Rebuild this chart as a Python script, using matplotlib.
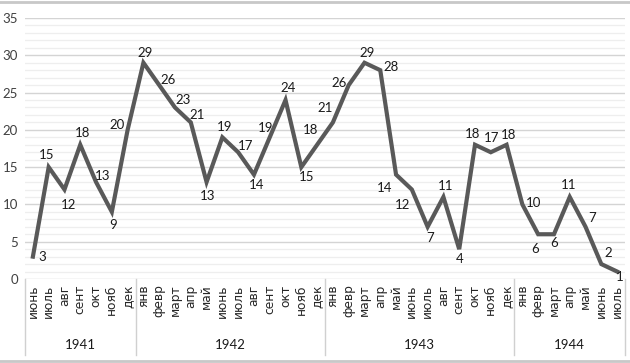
import numpy as np
import matplotlib.pyplot as plt
import matplotlib.transforms as mtransforms
from matplotlib.ticker import MultipleLocator

years = ["1941", "1942", "1943", "1944"]
months_1941 = ["июнь", "июль", "авг", "сент", "окт", "нояб", "дек"]
months_full = ["янв", "февр", "март", "апр", "май", "июнь", "июль",
               "авг", "сент", "окт", "нояб", "дек"]
months_1944 = ["янв", "февр", "март", "апр", "май", "июнь", "июль"]
months = months_1941 + months_full + months_full + months_1944
group_sizes = [len(months_1941), len(months_full), len(months_full), len(months_1944)]

values_1941 = [3, 15, 12, 18, 13, 9, 20]
values_1942 = [29, 26, 23, 21, 13, 19, 17, 14, 19, 24, 15, 18]
values_1943 = [21, 26, 29, 28, 14, 12, 7, 11, 4, 18, 17, 18]
values_1944 = [10, 6, 6, 11, 7, 2, 1]
values = values_1941 + values_1942 + values_1943 + values_1944

# label offsets in pixels (dx, dy up)
label_offsets = [
    (9, 0), (-2, 12), (4, -15), (2, 12), (7, 6), (1, -13), (-11, 5),
    (2, 10), (9, 5), (8, 7), (6, 7), (1, -14), (2, 10), (7, 6), (3, -10),
    (-4, 9), (3, 12), (5, -10), (-7, 15), (-8, 14),
    (-10, 2), (3, 10), (11, 3), (-11, -13), (-9, -15), (2, -11), (2, 11),
    (0, -10), (-2, 11), (1, 14), (2, 10), (11, 1),
    (-3, -15), (0, -9), (-1, 12), (7, 9), (7, 11), (3, -5),
]

W, H = 630, 363
fig = plt.figure(figsize=(W / 100, H / 100), dpi=100)
ax = fig.add_axes([25 / W, (H - 279) / H, 600 / W, 261 / H])

x = np.arange(len(values))
ax.plot(x, values, color="#595959", linewidth=3.0, solid_joinstyle="miter", zorder=3)

for xi, v, (dx, dy) in zip(x, values, label_offsets):
    ax.annotate(str(v), (xi, v), xytext=(dx, dy), textcoords="offset pixels",
                ha="center", va="center", fontsize=9.5, family="Lato",
                color="#1a1a1a", zorder=4)

ax.set_xlim(-0.5, len(values) - 0.5)
ax.set_ylim(0, 35)
ax.yaxis.set_major_locator(MultipleLocator(5))
ax.yaxis.set_minor_locator(MultipleLocator(1))
ax.grid(which="major", axis="y", color="#d4d4d4", linewidth=1.0)
ax.grid(which="minor", axis="y", color="#eeeeee", linewidth=0.9)
ax.set_axisbelow(True)
for s in ax.spines.values():
    s.set_visible(False)

ax.tick_params(axis="y", which="both", length=0, pad=5, labelsize=9.5,
               labelcolor="#404040")
for lab in ax.get_yticklabels():
    lab.set_family("Lato")

ax.set_xticks(x)
ax.set_xticklabels(months, rotation=90, fontsize=8.8, family="DejaVu Sans",
                   color="#262626")
ax.tick_params(axis="x", length=0, pad=4)

# year groups and separators under the axis
trans = mtransforms.blended_transform_factory(ax.transData, ax.transAxes)
bounds = np.concatenate([[0], np.cumsum(group_sizes)]) - 0.5
for b in bounds:
    ax.plot([b, b], [0, -76 / 261], transform=trans, color="#d0d0d0",
            linewidth=1.0, clip_on=False)
for yr, lo, hi in zip(years, bounds[:-1], bounds[1:]):
    ax.text((lo + hi) / 2, -66 / 261, yr, transform=trans, ha="center",
            va="center", fontsize=9.5, family="Lato", color="#1a1a1a")

# frame lines at top and bottom of picture
fig.add_artist(plt.Line2D([0, 1], [1 - 1.5 / H, 1 - 1.5 / H], transform=fig.transFigure,
                          color="#c8c8c8", linewidth=2))
fig.add_artist(plt.Line2D([0, 1], [2 / H, 2 / H], transform=fig.transFigure,
                          color="#c8c8c8", linewidth=2))

fig.savefig("out.png", dpi=100)
